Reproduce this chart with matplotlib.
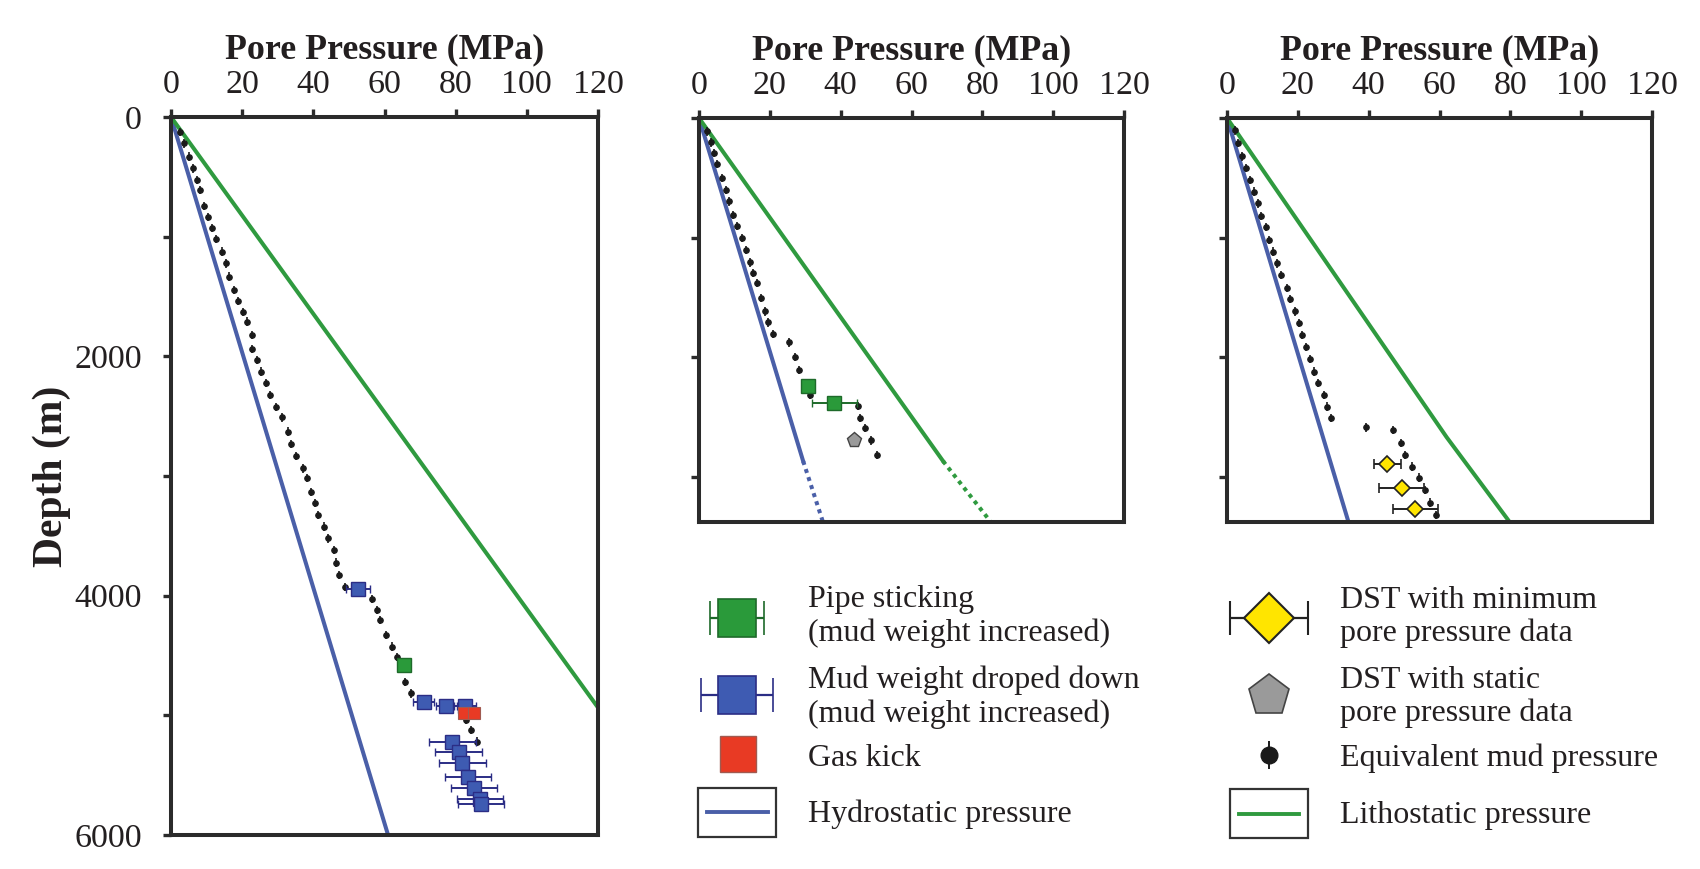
#!/usr/bin/env python3
"""Pore pressure vs depth for three wells, with a hand-placed legend."""

import matplotlib
matplotlib.use("Agg")
import matplotlib.pyplot as plt
from matplotlib.patches import Rectangle

# ── Data ────────────────────────────────────────────────────────────────────

# Well 1
HYDRO_P_1 = [0, 61.0]
HYDRO_D_1 = [0, 6000]
LITHO_P_1 = [0, 120.0]
LITHO_D_1 = [0, 4935]

MUD_P_1 = [2.5, 3.7, 5.1, 6.3, 7.2, 8.1, 9.4, 10.5, 11.6, 12.6, 14.2, 15.4, 16.4,
           17.7, 18.9, 20.1, 21.3, 22.8, 22.9, 24.1, 25.3, 26.7, 27.8, 29.5, 31.1,
           32.8, 33.6, 35.1, 37.2, 38.1, 39.3, 40.4, 41.4, 43.0, 44.2, 45.8, 46.3,
           47.3, 48.9, 56.4, 57.8, 58.7, 60.4, 62.0, 63.4, 65.7, 67.4, 82.8, 84.3, 86.1]
MUD_D_1 = [123, 220, 331, 429, 526, 610, 744, 838, 930, 1022, 1125, 1223, 1334,
           1446, 1535, 1627, 1710, 1822, 1941, 2031, 2128, 2225, 2323, 2421, 2510,
           2629, 2733, 2833, 2936, 3019, 3136, 3228, 3326, 3423, 3521, 3618, 3724,
           3827, 3925, 4030, 4120, 4203, 4329, 4426, 4510, 4719, 4816, 5039, 5122, 5220]

BLUE_P_1 = [52.6, 71.0, 77.4, 82.6, 79.1, 80.8, 81.9, 83.5, 85.1, 86.8, 87.2]
BLUE_D_1 = [3947, 4886, 4919, 4919, 5220, 5306, 5401, 5512, 5610, 5701, 5743]
BLUE_ERR_1 = [3.4, 3.0, 3.0, 3.0, 6.5, 6.5, 6.5, 6.5, 6.5, 6.5, 6.5]

GREEN_P_1 = [65.5]
GREEN_D_1 = [4579]
GREEN_ERR_1 = [1.0]

KICK_P_1 = [82.3, 85.1]
KICK_D_1 = [4983, 4983]

# Well 2
HYDRO_P_2 = [0, 29.4]
HYDRO_D_2 = [0, 2870]
HYDRO_EXT_P_2 = [29.4, 35.0]
HYDRO_EXT_D_2 = [2870, 3380]
LITHO_P_2 = [0, 68.9]
LITHO_D_2 = [0, 2870]
LITHO_EXT_P_2 = [68.9, 82.4]
LITHO_EXT_D_2 = [2870, 3380]

MUD_P_2 = [2.3, 3.3, 4.2, 5.0, 6.5, 7.7, 8.6, 9.7, 10.8, 12.0, 13.3, 14.4, 15.3,
           16.3, 17.4, 18.6, 19.6, 20.9, 25.5, 27.1, 28.3, 31.3, 45.0, 45.4, 46.8,
           48.5, 50.3]
MUD_D_2 = [112, 204, 293, 383, 502, 600, 698, 809, 901, 1004, 1102, 1208, 1297,
           1381, 1506, 1618, 1710, 1805, 1878, 2000, 2106, 2316, 2407, 2510, 2594,
           2698, 2818]

GREEN_P_2 = [30.8, 38.2]
GREEN_D_2 = [2240, 2385]
GREEN_ERR_2 = [0.0, 6.3]

STATIC_P_2 = [43.7]
STATIC_D_2 = [2698]

# Well 3
HYDRO_P_3 = [0, 34.3]
HYDRO_D_3 = [0, 3380]
LITHO_P_3 = [0, 62.0, 79.8]
LITHO_D_3 = [0, 2670, 3380]

MUD_P_3 = [2.2, 3.1, 4.3, 5.5, 6.6, 7.6, 8.7, 9.7, 10.9, 11.8, 12.9, 14.1, 15.3,
           16.8, 17.9, 19.1, 20.3, 21.3, 22.2, 23.3, 24.6, 25.7, 27.3, 28.3, 29.5,
           39.3, 46.8, 49.0, 50.3, 52.3, 54.1, 55.8, 57.2, 59.1]
MUD_D_3 = [104, 210, 321, 419, 517, 615, 714, 818, 913, 1019, 1117, 1216, 1313,
           1424, 1515, 1618, 1715, 1813, 1916, 2017, 2121, 2218, 2316, 2414, 2511,
           2589, 2608, 2720, 2818, 2916, 3008, 3111, 3217, 3320]

DST_P_3 = [45.3, 49.3, 53.2]
DST_D_3 = [2896, 3097, 3272]
DST_ERR_3 = [3.8, 6.3, 6.3]

X_TICKS = [0, 20, 40, 60, 80, 100, 120]
Y_TICKS_1 = [0, 1000, 2000, 3000, 4000, 5000, 6000]
Y_LABELS_1 = ["0", "", "2000", "", "4000", "", "6000"]
Y_TICKS_23 = [0, 1000, 2000, 3000]

# ── Style ───────────────────────────────────────────────────────────────────

W, H = 1700, 869
INK = "#231f20"
SPINE = "#2b2b2b"
C_HYDRO = "#4a5fa8"
C_LITHO = "#2f9a3f"
C_GREEN, C_GREEN_EDGE = "#2a9a3a", "#1e6a2a"
C_BLUE, C_BLUE_EDGE = "#3e5bb2", "#2b2d85"
C_RED, C_RED_EDGE = "#e83a24", "#a05a50"
C_YELLOW = "#ffe500"
C_GRAY, C_GRAY_EDGE = "#9a9a9a", "#444444"
C_MUD = "#1a1a1a"

plt.rcParams["font.family"] = ["Liberation Serif", "DejaVu Serif"]
plt.rcParams["text.color"] = INK

TICK_FS = 24.5
LABEL_FS = 25.8
YLABEL_FS = 30
LEG_FS = 23


def px_rect(left, top, right, bottom):
    """Pixel box -> figure fraction rect."""
    return [left / W, 1 - bottom / H, (right - left) / W, (bottom - top) / H]


def style_axes(ax, ymax, yticks, ylabels):
    ax.set_xlim(0, 120)
    ax.set_ylim(ymax, 0)
    ax.xaxis.tick_top()
    ax.xaxis.set_label_position("top")
    ax.set_xticks(X_TICKS)
    ax.set_yticks(yticks)
    ax.set_yticklabels(ylabels)
    ax.set_xlabel("Pore Pressure (MPa)", fontsize=LABEL_FS, fontweight="bold",
                  labelpad=8, color=INK)
    ax.tick_params(axis="both", direction="out", length=6, width=2.4,
                   color=SPINE, labelsize=TICK_FS, labelcolor=INK)
    ax.tick_params(axis="x", pad=6)
    ax.tick_params(axis="y", pad=15)
    for sp in ax.spines.values():
        sp.set_linewidth(2.9)
        sp.set_color(SPINE)


def mud_dots(ax, p, d):
    ax.errorbar(p, d, yerr=35, fmt="o", ms=3.8, color=C_MUD, ecolor=C_MUD,
                elinewidth=1.2, capsize=0, zorder=4)


def squares(ax, p, d, err, face, edge, ecolor):
    ax.errorbar(p, d, xerr=err, fmt="s", ms=9.5, mfc=face, mec=edge, mew=1.0,
                ecolor=ecolor, elinewidth=1.4, capsize=3.2, capthick=1.4, zorder=5)


# ── Figure ──────────────────────────────────────────────────────────────────

fig = plt.figure(figsize=(W / 100, H / 100), dpi=100)

ax1 = fig.add_axes(px_rect(171, 117, 598, 835))
ax2 = fig.add_axes(px_rect(699, 118, 1124, 522))
ax3 = fig.add_axes(px_rect(1227, 118, 1652, 522))

style_axes(ax1, 6000, Y_TICKS_1, Y_LABELS_1)
style_axes(ax2, 3380, Y_TICKS_23, [""] * len(Y_TICKS_23))
style_axes(ax3, 3380, Y_TICKS_23, [""] * len(Y_TICKS_23))
ax1.set_ylabel("Depth (m)", fontsize=YLABEL_FS, fontweight="bold", labelpad=2, color=INK)

dotted = (0, (1.0, 1.1))

# well 1
ax1.plot(HYDRO_P_1, HYDRO_D_1, color=C_HYDRO, lw=2.9, zorder=2)
ax1.plot(LITHO_P_1, LITHO_D_1, color=C_LITHO, lw=2.9, zorder=2)
mud_dots(ax1, MUD_P_1, MUD_D_1)
squares(ax1, GREEN_P_1, GREEN_D_1, GREEN_ERR_1, C_GREEN, C_GREEN_EDGE, C_GREEN_EDGE)
squares(ax1, BLUE_P_1, BLUE_D_1, BLUE_ERR_1, C_BLUE, C_BLUE_EDGE, C_BLUE_EDGE)
ax1.plot(KICK_P_1, KICK_D_1, "s", ms=8, mfc=C_RED, mec=C_RED_EDGE, mew=0.8,
         ls="none", zorder=6)

# well 2
ax2.plot(HYDRO_P_2, HYDRO_D_2, color=C_HYDRO, lw=2.9, zorder=2)
ax2.plot(HYDRO_EXT_P_2, HYDRO_EXT_D_2, color=C_HYDRO, lw=2.9, ls=dotted, zorder=2)
ax2.plot(LITHO_P_2, LITHO_D_2, color=C_LITHO, lw=2.9, zorder=2)
ax2.plot(LITHO_EXT_P_2, LITHO_EXT_D_2, color=C_LITHO, lw=2.9, ls=dotted, zorder=2)
mud_dots(ax2, MUD_P_2, MUD_D_2)
squares(ax2, GREEN_P_2, GREEN_D_2, GREEN_ERR_2, C_GREEN, C_GREEN_EDGE, C_GREEN_EDGE)
ax2.plot(STATIC_P_2, STATIC_D_2, "p", ms=11, mfc=C_GRAY, mec=C_GRAY_EDGE, mew=1.0,
         ls="none", zorder=5)

# well 3
ax3.plot(HYDRO_P_3, HYDRO_D_3, color=C_HYDRO, lw=2.9, zorder=2)
ax3.plot(LITHO_P_3, LITHO_D_3, color=C_LITHO, lw=2.9, zorder=2)
mud_dots(ax3, MUD_P_3, MUD_D_3)
ax3.errorbar(DST_P_3, DST_D_3, xerr=DST_ERR_3, fmt="D", ms=8, mfc=C_YELLOW,
             mec="#222222", mew=1.2, ecolor="#222222", elinewidth=1.4,
             capsize=3.5, capthick=1.4, zorder=5)

# ── Legend (drawn in figure pixel space) ────────────────────────────────────

leg = fig.add_axes([0, 0, 1, 1], zorder=-1)
leg.set_xlim(0, W)
leg.set_ylim(H, 0)
leg.axis("off")


def leg_text(x, y, s):
    leg.text(x, y, s, fontsize=LEG_FS, va="center", ha="left", linespacing=1.2)


# left block
leg.errorbar([737], [618], xerr=[[27]], fmt="s", ms=27, mfc=C_GREEN, mec=C_GREEN_EDGE,
             mew=1.2, ecolor=C_GREEN_EDGE, elinewidth=1.6, capsize=12.5, capthick=1.6)
leg_text(808, 617, "Pipe sticking\n(mud weight increased)")
leg.errorbar([737], [695], xerr=[[36]], fmt="s", ms=27, mfc=C_BLUE, mec=C_BLUE_EDGE,
             mew=1.2, ecolor=C_BLUE_EDGE, elinewidth=1.6, capsize=12.5, capthick=1.6)
leg_text(808, 697, "Mud weight droped down\n(mud weight increased)")
leg.plot([738], [754], "s", ms=26, mfc=C_RED, mec=C_RED_EDGE, mew=1.0)
leg_text(808, 758, "Gas kick")
leg.add_patch(Rectangle((698, 788), 78, 49, fill=False, ec="#333333", lw=1.6))
leg.plot([707, 768], [812, 812], color=C_HYDRO, lw=2.8)
leg_text(808, 814, "Hydrostatic pressure")

# right block
leg.errorbar([1269], [618], xerr=[[39]], fmt="D", ms=25, mfc=C_YELLOW, mec="#222222",
             mew=1.5, ecolor="#222222", elinewidth=1.6, capsize=12, capthick=1.6)
leg_text(1340, 617, "DST with minimum\npore pressure data")
leg.plot([1269], [696], "p", ms=31, mfc=C_GRAY, mec=C_GRAY_EDGE, mew=1.2)
leg_text(1340, 697, "DST with static\npore pressure data")
leg.errorbar([1269], [755], yerr=[[14]], fmt="o", ms=12, color=C_MUD, ecolor=C_MUD,
             elinewidth=1.4, capsize=0)
leg_text(1340, 758, "Equivalent mud pressure")
leg.add_patch(Rectangle((1230, 789), 78, 49, fill=False, ec="#333333", lw=1.6))
leg.plot([1239, 1299], [814, 814], color=C_LITHO, lw=2.8)
leg_text(1340, 816, "Lithostatic pressure")

fig.savefig("out.png", dpi=100)
print("saved out.png")
